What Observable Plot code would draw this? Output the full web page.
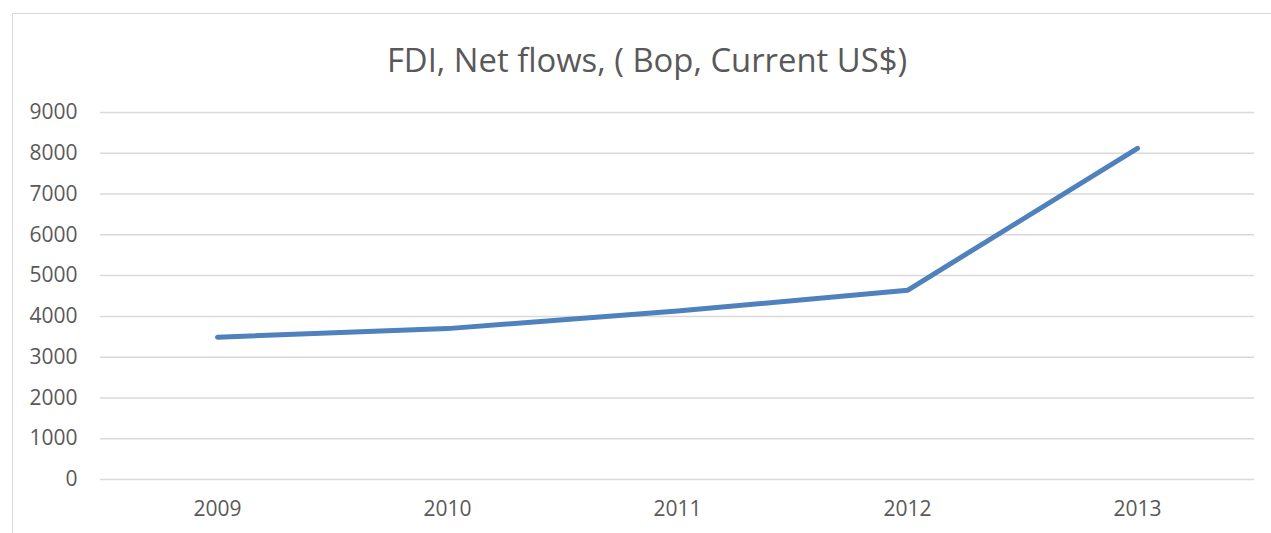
<!DOCTYPE html>
<html>
<head>
<meta charset="utf-8">
<script src="https://cdn.jsdelivr.net/npm/d3@7"></script>
<script src="https://cdn.jsdelivr.net/npm/@observablehq/plot@0.6"></script>
<style>
  html, body { margin: 0; padding: 0; background: #fff; overflow: hidden; }
  #wrap { position: relative; width: 1271px; height: 533px; overflow: hidden; }
  #frame { position: absolute; left: 12px; top: 13px; width: 1280px; height: 540px; border: 1px solid #d9d9d9; box-sizing: border-box; }
  #title { position: absolute; left: 0; top: 37px; width: 1294px; text-align: center; font-family: "Open Sans", sans-serif; font-size: 32.8px; color: #595959; line-height: 46px; }
  #chart { position: absolute; left: 0; top: 0; }
</style>
</head>
<body>
<div id="wrap">
  <div id="frame"></div>
  <div id="chart"></div>
  <div id="title">FDI, Net flows, ( Bop, Current US$)</div>
</div>
<script>
const years = ["2009", "2010", "2011", "2012", "2013"];
const fdi = [3490, 3700, 4130, 4640, 8120];
const yTicks = [0, 1000, 2000, 3000, 4000, 5000, 6000, 7000, 8000, 9000];

const data = years.map((y, i) => ({year: y, value: fdi[i]}));

const chart = Plot.plot({
  width: 1271,
  height: 533,
  marginLeft: 100,
  marginRight: 17,
  marginTop: 112,
  marginBottom: 54,
  style: {fontFamily: "'Open Sans', sans-serif", fontSize: "21px", color: "#595959", background: "transparent"},
  x: {type: "point", domain: years, padding: 0.5, label: null},
  y: {domain: [0, 9000], ticks: yTicks, label: null},
  marks: [
    Plot.gridY(yTicks, {stroke: "#d9d9d9", strokeOpacity: 1, strokeWidth: 1.5}),
    Plot.axisY(yTicks, {tickSize: 0, tickPadding: 23, tickFormat: d => String(d), fill: "#595959"}),
    Plot.axisX(years, {tickSize: 0, tickPadding: 22, fill: "#595959"}),
    Plot.line(data, {x: "year", y: "value", stroke: "#4f81bd", strokeWidth: 5, strokeLinecap: "round", strokeLinejoin: "round"})
  ]
});
document.getElementById("chart").appendChild(chart);
</script>
</body>
</html>
